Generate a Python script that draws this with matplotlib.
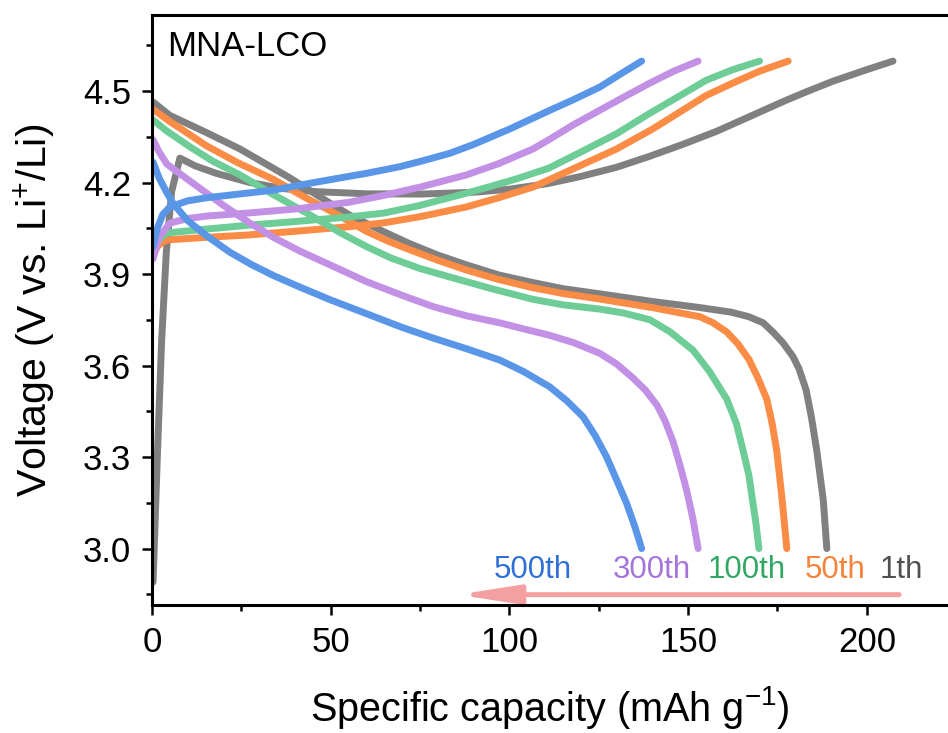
import matplotlib
matplotlib.use("Agg")
import matplotlib.pyplot as plt
from matplotlib.ticker import MultipleLocator, FormatStrFormatter
from matplotlib.patches import FancyArrowPatch

plt.rcParams['font.family'] = ['Liberation Sans', 'DejaVu Sans']
plt.rcParams['mathtext.default'] = 'regular'

# charge / discharge curves (capacity in mAh/g, voltage in V)
cycles = ["1th", "50th", "100th", "300th", "500th"]
line_colors = ["#808080", "#fa8c45", "#6ecc96", "#c291e6", "#5a96e8"]
text_colors = ["#505050", "#f5843a", "#30a864", "#a474dc", "#2f6fd6"]

charge_x = [
    [0.3, 1.5, 2.7, 4, 5.5, 7.8, 12, 18, 27.4, 36.7, 46, 60, 75, 90, 100, 111, 120, 130, 139, 148.5, 158, 167, 176.5, 183, 190.5, 200, 207.3],
    [0.3, 1.5, 3, 4.5, 15, 27, 40, 55, 65, 75, 88, 97, 106.6, 116, 130, 140, 148.5, 155, 162.5, 170, 178],
    [0.3, 1.5, 3, 4.5, 15, 27, 40, 55, 65, 75, 88, 95, 102, 111, 120, 130, 139, 148.5, 155, 162.5, 170],
    [0.3, 2, 5, 10, 15.3, 27, 40, 55, 65, 75, 88, 97, 106.6, 111, 118, 125.3, 132, 139.3, 146, 152.8],
    [0.3, 1.5, 3, 5, 10, 15.3, 25, 34, 43, 52.6, 60, 69.4, 76, 83.4, 90, 100, 111, 118, 125.3, 131, 137],
]
charge_y = [
    [2.89, 3.3, 3.68, 3.97, 4.17, 4.28, 4.255, 4.23, 4.2, 4.18, 4.17, 4.163, 4.162, 4.168, 4.178, 4.197, 4.22, 4.25, 4.285, 4.325, 4.368, 4.415, 4.465, 4.497, 4.532, 4.57, 4.598],
    [3.96, 3.99, 4.005, 4.012, 4.02, 4.028, 4.04, 4.055, 4.068, 4.088, 4.12, 4.15, 4.185, 4.235, 4.31, 4.375, 4.437, 4.485, 4.526, 4.565, 4.598],
    [3.97, 4.005, 4.025, 4.035, 4.047, 4.06, 4.072, 4.087, 4.10, 4.125, 4.165, 4.188, 4.212, 4.247, 4.3, 4.36, 4.425, 4.49, 4.535, 4.57, 4.598],
    [3.95, 4.02, 4.067, 4.082, 4.09, 4.10, 4.113, 4.135, 4.158, 4.185, 4.225, 4.262, 4.31, 4.34, 4.39, 4.437, 4.48, 4.526, 4.565, 4.598],
    [3.99, 4.05, 4.095, 4.12, 4.14, 4.15, 4.163, 4.175, 4.195, 4.215, 4.23, 4.252, 4.272, 4.296, 4.325, 4.375, 4.435, 4.472, 4.513, 4.555, 4.598],
]

discharge_x = [
    [0.3, 5, 15, 24.6, 32, 38.6, 46, 55, 64.6, 72, 80, 88, 97, 106.6, 115, 125.3, 140, 153.3, 162, 167, 171, 173.7, 176.5, 179.3, 181, 183, 184.5, 186, 187.8, 188.8],
    [0.3, 5, 15.3, 24, 34, 43, 52.6, 60, 66, 72, 80, 88, 97, 106.6, 115, 125.3, 140, 153.3, 157, 160.8, 164, 167, 169.5, 172, 173.5, 174.8, 176.3, 177.6],
    [0.3, 4, 10.6, 17, 24.6, 34, 43.3, 52.6, 60, 67, 75, 83.4, 95, 106.6, 115, 125.3, 132, 139.3, 145, 151.4, 156, 160.8, 163.5, 165.4, 167, 168, 169, 169.8],
    [0.3, 2, 4.2, 10, 15.3, 20, 27, 34, 41.4, 47, 52.6, 60, 70, 78.7, 88, 97.3, 104, 111, 118, 125.3, 130, 134.5, 138, 141.3, 143.5, 145.8, 147.8, 149.6, 151.3, 152.8],
    [0.3, 2, 4, 6, 10, 15.3, 22, 28, 34, 41.4, 50, 60, 70, 78.7, 88, 97.3, 104, 111.3, 116, 120.6, 124, 127.2, 130, 132.8, 135, 137],
]
discharge_y = [
    [4.464, 4.42, 4.365, 4.31, 4.26, 4.215, 4.16, 4.095, 4.04, 4.0, 3.962, 3.93, 3.897, 3.872, 3.852, 3.835, 3.81, 3.79, 3.775, 3.76, 3.74, 3.71, 3.675, 3.63, 3.59, 3.52, 3.43, 3.32, 3.16, 3.0],
    [4.44, 4.40, 4.32, 4.265, 4.21, 4.15, 4.09, 4.04, 4.008, 3.98, 3.945, 3.913, 3.882, 3.855, 3.836, 3.818, 3.79, 3.76, 3.74, 3.71, 3.67, 3.62, 3.56, 3.49, 3.41, 3.32, 3.16, 3.0],
    [4.405, 4.37, 4.317, 4.27, 4.225, 4.16, 4.10, 4.036, 3.99, 3.952, 3.918, 3.89, 3.852, 3.817, 3.799, 3.785, 3.772, 3.75, 3.71, 3.65, 3.58, 3.49, 3.41, 3.32, 3.24, 3.16, 3.08, 3.0],
    [4.34, 4.30, 4.26, 4.21, 4.165, 4.125, 4.07, 4.02, 3.975, 3.945, 3.915, 3.875, 3.83, 3.793, 3.763, 3.74, 3.72, 3.70, 3.675, 3.64, 3.605, 3.56, 3.52, 3.47, 3.42, 3.35, 3.27, 3.19, 3.1, 3.0],
    [4.267, 4.215, 4.17, 4.13, 4.075, 4.025, 3.97, 3.93, 3.895, 3.857, 3.815, 3.77, 3.725, 3.69, 3.655, 3.618, 3.58, 3.53, 3.485, 3.432, 3.37, 3.30, 3.225, 3.148, 3.075, 3.0],
]

# cycle labels along the bottom
label_x = [209.5, 191, 166.5, 139.9, 106.6]
label_y = 2.93

fig = plt.figure(figsize=(9.48, 7.33), dpi=100)
ax = fig.add_axes([0.1603, 0.1746, 0.8397, 0.8049])

for i in range(len(cycles)):
    ax.plot(charge_x[i], charge_y[i], color=line_colors[i], lw=5, solid_capstyle='round', solid_joinstyle='round')
    ax.plot(discharge_x[i], discharge_y[i], color=line_colors[i], lw=5, solid_capstyle='round', solid_joinstyle='round')
    ax.text(label_x[i], label_y, cycles[i], color=text_colors[i], fontsize=22.5,
            ha='center', va='center')

# arrow showing cycling direction
arrow = FancyArrowPatch((209, 2.849), (85.5, 2.849), arrowstyle='-|>,head_length=1.8,head_width=0.28',
                        mutation_scale=20, color='#f4a0a0', lw=3.6, shrinkA=0, shrinkB=0)
ax.add_patch(arrow)

ax.text(0.019, 0.946, "MNA-LCO", transform=ax.transAxes, fontsize=25, ha='left', va='center')

ax.set_xlim(0, 222.7)
ax.set_ylim(2.815, 4.749)
ax.xaxis.set_major_locator(MultipleLocator(50))
ax.xaxis.set_minor_locator(MultipleLocator(25))
ax.yaxis.set_major_locator(MultipleLocator(0.3))
ax.yaxis.set_minor_locator(MultipleLocator(0.15))
ax.yaxis.set_major_formatter(FormatStrFormatter('%.1f'))

ax.spines['right'].set_visible(False)
for s in ['left', 'bottom', 'top']:
    ax.spines[s].set_linewidth(2.2)
ax.tick_params(which='major', direction='out', length=7, width=1.8, labelsize=25, pad=8)
ax.tick_params(which='minor', direction='out', length=4, width=1.8)

ax.set_xlabel("Specific capacity (mAh g$^{-1}$)", fontsize=28.5, labelpad=18)
ax.set_ylabel("Voltage (V vs. Li$^{+}$/Li)", fontsize=29.5, labelpad=18)

plt.savefig("out.png", dpi=100)
